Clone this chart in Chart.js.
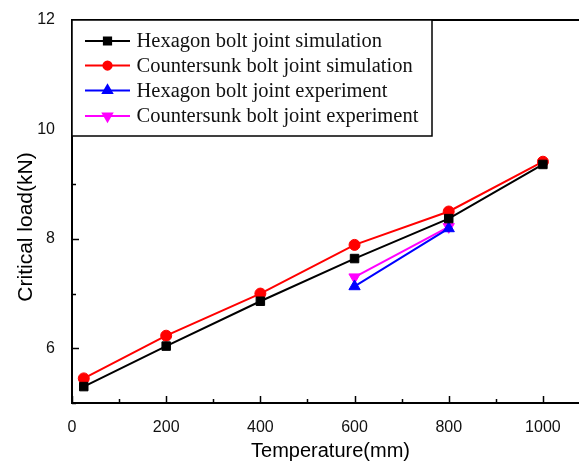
<!DOCTYPE html>
<html>
<head>
<meta charset="utf-8">
<script src="https://cdn.jsdelivr.net/npm/chart.js@4/dist/chart.umd.min.js"></script>
<style>
html,body{margin:0;padding:0;background:#fff;overflow:hidden;}
#wrap{position:relative;width:600px;height:464px;}
</style>
</head>
<body>
<div id="wrap"><canvas id="c"></canvas></div>
<script>
const seriesNames = [
  'Hexagon bolt joint simulation',
  'Countersunk bolt joint simulation',
  'Hexagon bolt joint experiment',
  'Countersunk bolt joint experiment'
];
const simTemps = [25, 200, 400, 600, 800, 1000];
const hexSim = [5.30, 6.04, 6.86, 7.64, 8.37, 9.36];
const cskSim = [5.45, 6.23, 7.00, 7.89, 8.50, 9.41];
const expTemps = [600, 800];
const hexExp = [7.13, 8.19];
const cskExp = [7.30, 8.22];
const xTickLabels = [0, 200, 400, 600, 800, 1000];
const yTickLabels = [6, 8, 10, 12];
const xTitle = 'Temperature(mm)';
const yTitle = 'Critical load(kN)';

function pts(xs, ys){ return xs.map((x,i)=>({x:x, y:ys[i]})); }

const colors = ['#000000', '#ff0000', '#0000ff', '#ff00ff'];
const styles = ['rect', 'circle', 'triangle', 'triangle'];
const rots = [0, 0, 0, 180];
const radii = [6, 5.5, 6.5, 6.5];
const legendScale = [0.85, 0.75, 0.8, 0.8];
const dataSets = [pts(simTemps, hexSim), pts(simTemps, cskSim), pts(expTemps, hexExp), pts(expTemps, cskExp)];

const datasets = dataSets.map((d, i) => ({
  label: seriesNames[i],
  data: d,
  borderColor: colors[i],
  backgroundColor: colors[i],
  borderWidth: 2,
  pointStyle: styles[i],
  pointRotation: rots[i],
  pointRadius: radii[i],
  pointBorderWidth: 1,
  showLine: true,
  tension: 0,
  clip: false
}));

const frame = {
  id: 'frame',
  afterDatasetsDraw(chart){
    const ctx = chart.ctx, a = chart.chartArea;
    const xs = chart.scales.x, ys = chart.scales.y;
    ctx.save();
    ctx.strokeStyle = '#000';
    ctx.lineWidth = 2;
    ctx.beginPath(); ctx.moveTo(a.left-1, a.top); ctx.lineTo(a.right+1, a.top); ctx.stroke();
    ctx.lineWidth = 1.5;
    for (let v = 0; v <= 1100; v += 100) {
      const px = Math.round(xs.getPixelForValue(v)) + 0.5;
      const len = (v % 200 === 0) ? 7 : 4;
      ctx.beginPath(); ctx.moveTo(px, a.bottom); ctx.lineTo(px, a.bottom - len); ctx.stroke();
    }
    for (let v = 5; v <= 12; v += 1) {
      const py = Math.round(ys.getPixelForValue(v)) + 0.5;
      const len = (v % 2 === 0) ? 7 : 4;
      ctx.beginPath(); ctx.moveTo(a.left, py); ctx.lineTo(a.left + len, py); ctx.stroke();
    }
    const bx = a.left, by = a.top, bw = 360, bh = 116;
    ctx.fillStyle = '#fff';
    ctx.fillRect(bx, by, bw, bh);
    ctx.lineWidth = 1.5;
    ctx.strokeRect(bx, by, bw, bh);
    const rowY = [41, 65.5, 90.5, 116];
    ctx.font = '20.5px "Liberation Serif", "Times New Roman", serif';
    ctx.textBaseline = 'middle';
    ctx.textAlign = 'left';
    chart.data.datasets.forEach((ds, i) => {
      const y = rowY[i];
      ctx.strokeStyle = ds.borderColor;
      ctx.lineWidth = 2;
      ctx.beginPath(); ctx.moveTo(85, y); ctx.lineTo(130, y); ctx.stroke();
      Chart.helpers.drawPoint(ctx, {
        pointStyle: ds.pointStyle, rotation: ds.pointRotation,
        radius: ds.pointRadius * legendScale[i], borderWidth: 1
      }, 107.5, y);
      ctx.fillStyle = ds.borderColor;
      ctx.fill();
      ctx.fillStyle = '#111';
      ctx.fillText(ds.label, 136.5, y + 1);
    });
    ctx.fillStyle = '#000';
    ctx.font = '20px "Liberation Sans", Arial, sans-serif';
    ctx.textAlign = 'center';
    ctx.textBaseline = 'middle';
    ctx.fillText(xTitle, (a.left + a.right) / 2 - 0.5, 451);
    ctx.save();
    ctx.translate(26, 227);
    ctx.rotate(-Math.PI / 2);
    ctx.font = '21px "Liberation Sans", Arial, sans-serif';
    ctx.fillText(yTitle, 0, 0);
    ctx.restore();
    ctx.restore();
  }
};

new Chart(document.getElementById('c'), {
  type: 'line',
  data: { datasets: datasets },
  options: {
    responsive: true,
    maintainAspectRatio: false,
    animation: false,
    events: [],
    layout: { padding: { top: 20, right: 10, left: 0, bottom: 0 } },
    plugins: { legend: { display: false }, tooltip: { enabled: false }, title: { display: false } },
    scales: {
      x: {
        type: 'linear', min: 0, max: 1100,
        grid: { display: false },
        border: { display: true, color: '#000', width: 2 },
        afterFit(s){ s.height = 61; },
        ticks: {
          stepSize: 100, padding: 7, color: '#111', maxRotation: 0, autoSkip: false,
          font: { family: '"Liberation Sans", Arial, sans-serif', size: 16 },
          callback: (v) => xTickLabels.includes(v) ? String(v) : ''
        }
      },
      y: {
        type: 'linear', min: 5, max: 12,
        grid: { display: false },
        border: { display: true, color: '#000', width: 2 },
        afterFit(s){ s.width = 72; },
        ticks: {
          stepSize: 1, padding: 9, color: '#111', autoSkip: false,
          font: { family: '"Liberation Sans", Arial, sans-serif', size: 16 },
          callback: (v) => yTickLabels.includes(v) ? String(v) : ''
        }
      }
    }
  },
  plugins: [frame]
});
</script>
</body>
</html>
